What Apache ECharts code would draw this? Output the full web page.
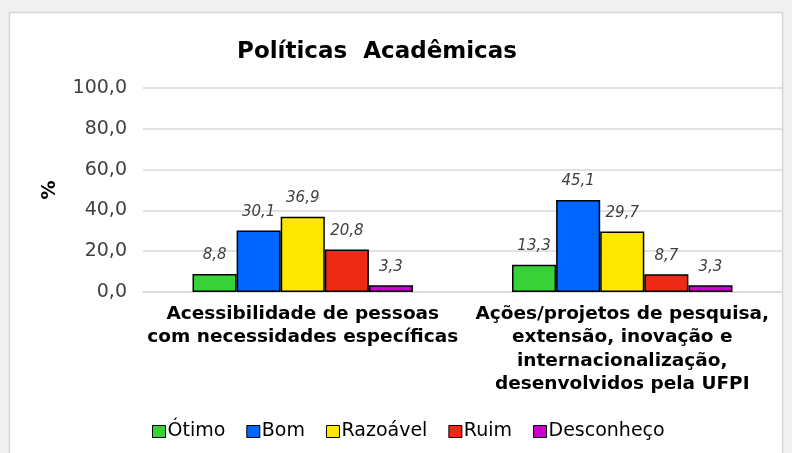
<!DOCTYPE html>
<html>
<head>
<meta charset="utf-8">
<script src="https://cdn.jsdelivr.net/npm/echarts@6/dist/echarts.min.js"></script>
<style>
html, body { margin: 0; padding: 0; background: #f0f0f0; }
#main { width: 792px; height: 453px; }
</style>
</head>
<body>
<div id="main"></div>
<script>
var categories = [
    'Acessibilidade de pessoas\ncom necessidades específicas',
    'Ações/projetos de pesquisa,\nextensão, inovação e\ninternacionalização,\ndesenvolvidos pela UFPI'
];
var seriesNames = ['Ótimo', 'Bom', 'Razoável', 'Ruim', 'Desconheço'];
var otimo = [8.8, 13.3];
var bom = [30.1, 45.1];
var razoavel = [36.9, 29.7];
var ruim = [20.8, 8.7];
var desconheco = [3.3, 3.3];
var yTicks = [0, 20, 40, 60, 80, 100];

var colors = ['#38d238', '#0066ff', '#ffe800', '#ee2a16', '#cc00cc'];
var values = [otimo, bom, razoavel, ruim, desconheco];
var fontFam = '"DejaVu Sans", sans-serif';

function fmt(v) {
    return v.toFixed(1).replace('.', ',');
}

var series = seriesNames.map(function (name, i) {
    return {
        name: name,
        type: 'bar',
        data: values[i],
        barGap: '0%',
        barCategoryGap: '31%',
        itemStyle: { color: colors[i], borderColor: '#000', borderWidth: 1.5 },
        label: {
            show: true,
            position: 'top',
            distance: 11,
            fontStyle: 'italic',
            fontSize: 15,
            fontFamily: fontFam,
            color: '#404040',
            formatter: function (p) { return fmt(p.value); }
        }
    };
});

var myChart = echarts.init(document.getElementById('main'));
var option = {
    animation: false,
    color: colors,
    textStyle: { fontFamily: fontFam },
    graphic: [{
        type: 'rect',
        z: -10,
        shape: { x: 9.5, y: 12.5, width: 773, height: 450 },
        style: { fill: '#fff', stroke: '#d4d4d4', lineWidth: 1.5 }
    }],
    title: {
        text: 'Políticas  Acadêmicas',
        left: 372,
        textAlign: 'center',
        top: 36,
        textStyle: { fontSize: 23, fontWeight: 'bold', color: '#000', fontFamily: fontFam }
    },
    legend: {
        data: seriesNames,
        left: 147,
        top: 417,
        itemWidth: 13,
        itemHeight: 12,
        itemGap: 21,
        icon: 'rect',
        textStyle: { fontSize: 19, color: '#000', padding: [0, 0, 0, -3], fontFamily: fontFam },
        itemStyle: { borderColor: '#000', borderWidth: 1 }
    },
    grid: { left: 143, right: 10, top: 88, height: 204, containLabel: false },
    xAxis: {
        type: 'category',
        data: categories,
        axisLine: { lineStyle: { color: '#d9d9d9', width: 1.5 } },
        axisTick: { show: false },
        axisLabel: {
            interval: 0,
            fontSize: 18.5,
            fontWeight: 'bold',
            color: '#000',
            lineHeight: 23.5,
            margin: 10,
            fontFamily: fontFam
        }
    },
    yAxis: {
        type: 'value',
        min: yTicks[0],
        max: yTicks[yTicks.length - 1],
        interval: 20,
        name: '%',
        nameLocation: 'middle',
        nameRotate: 90,
        nameGap: 83,
        nameTextStyle: { fontSize: 19, fontWeight: 'bold', color: '#000' },
        axisLine: { show: false },
        axisTick: { show: false },
        splitLine: { lineStyle: { color: '#d9d9d9', width: 1.5 } },
        axisLabel: {
            fontSize: 19,
            color: '#404040',
            margin: 16,
            fontFamily: fontFam,
            formatter: function (v) { return fmt(v); }
        }
    },
    series: series
};
myChart.setOption(option, true);
</script>
</body>
</html>
